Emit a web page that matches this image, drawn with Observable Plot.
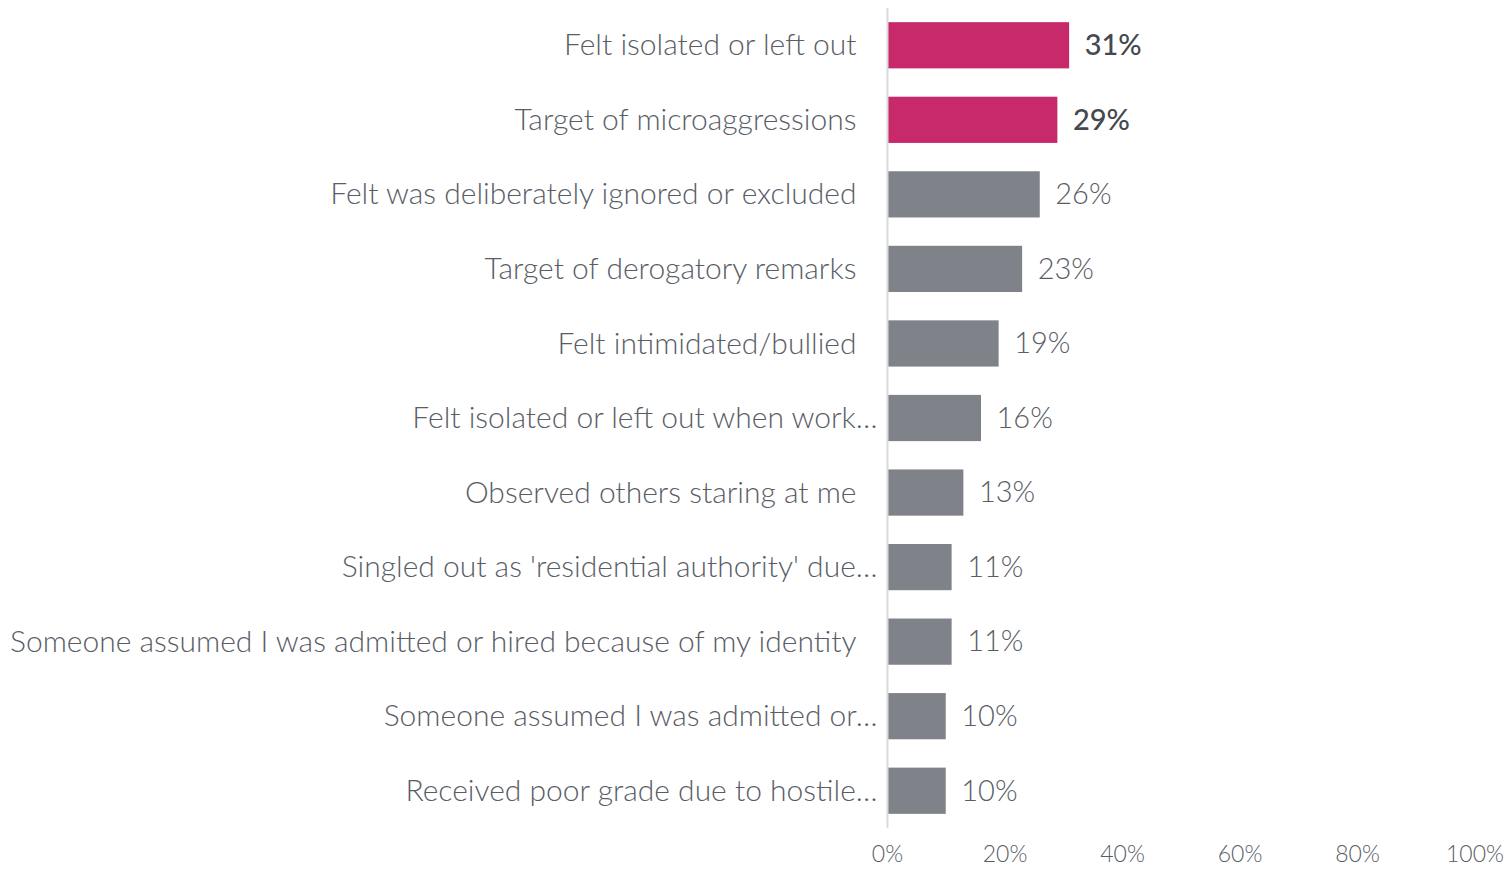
<!DOCTYPE html>
<html><head>
<meta charset="utf-8">
<script src="https://cdn.jsdelivr.net/npm/d3@7"></script>
<script src="https://cdn.jsdelivr.net/npm/@observablehq/plot@0.6"></script>
<style>body{margin:0;background:#fff;overflow:hidden}</style>
</head><body><div id="chart"></div>
<script>
const categories = [
  "Felt isolated or left out",
  "Target of microaggressions",
  "Felt was deliberately ignored or excluded",
  "Target of derogatory remarks",
  "Felt intimidated/bullied",
  "Felt isolated or left out when work…",
  "Observed others staring at me",
  "Singled out as 'residential authority' due…",
  "Someone assumed I was admitted or hired because of my identity",
  "Someone assumed I was admitted or…",
  "Received poor grade due to hostile…"
];
const values = [31, 29, 26, 23, 19, 16, 13, 11, 11, 10, 10];
const highlighted = [true, true, false, false, false, false, false, false, false, false, false];
const xTicks = [0, 20, 40, 60, 80, 100];

const data = categories.map((c, i) => ({category: c, value: values[i], hi: highlighted[i]}));
const PINK = "#C8296A", GRAY = "#808289", TEXT = "#595d66";

const plot = Plot.plot({
  width: 1508, height: 871,
  marginLeft: 887, marginRight: 33.5, marginTop: 8, marginBottom: 43,
  style: {fontFamily: "Lato, 'Open Sans', sans-serif", background: "#fff", color: TEXT},
  x: {domain: [0, 100], axis: null},
  y: {domain: categories, paddingInner: 0.38, paddingOuter: 0.19, round: false, axis: null},
  color: {type: "identity"},
  marks: [
    Plot.barX(data, {x: "value", y: "category", fill: d => d.hi ? PINK : GRAY}),
    Plot.ruleX([0], {stroke: "#d9d9d9", strokeWidth: 2}),
    Plot.axisX({ticks: xTicks, tickFormat: d => d + "%", tickSize: 0, tickPadding: 17, fontSize: 23, fontWeight: 300, label: null, fill: TEXT}),
    Plot.text(data.filter(d => !d.category.endsWith("…")), {x: 0, y: "category", text: "category", dx: -31, textAnchor: "end", fontSize: 30, fontWeight: 300, fill: TEXT}),
    Plot.text(data.filter(d => d.category.endsWith("…")), {x: 0, y: "category", text: "category", dx: -10, textAnchor: "end", fontSize: 30, fontWeight: 300, fill: TEXT}),
    Plot.text(data.filter(d => !d.hi), {x: "value", y: "category", text: d => d.value + "%", dx: 15, textAnchor: "start", fontSize: 29, fontWeight: 300, fill: TEXT}),
    Plot.text(data.filter(d => d.hi), {x: "value", y: "category", text: d => d.value + "%", dx: 15, textAnchor: "start", fontSize: 29, fontWeight: 500, fill: "#44484f"})
  ]
});
document.getElementById("chart").appendChild(plot);
</script>
</body></html>
